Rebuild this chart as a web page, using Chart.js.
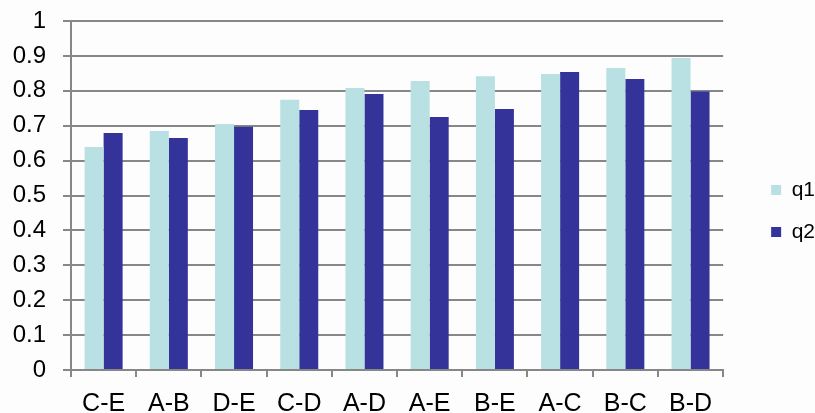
<!DOCTYPE html>
<html>
<head>
<meta charset="utf-8">
<script src="https://cdn.jsdelivr.net/npm/chart.js@4/dist/chart.umd.min.js"></script>
<style>
  html, body { margin: 0; padding: 0; background: #fdfdfd; }
  #wrap { width: 815px; height: 413px; position: relative; }
</style>
</head>
<body>
<div id="wrap"><canvas id="c" width="815" height="413"></canvas></div>
<script>
// Pairwise comparison scores for the two questions
const pairs = ['C-E', 'A-B', 'D-E', 'C-D', 'A-D', 'A-E', 'B-E', 'A-C', 'B-C', 'B-D'];
const q1 = [0.639, 0.685, 0.705, 0.774, 0.808, 0.828, 0.842, 0.848, 0.865, 0.894];
const q2 = [0.679, 0.665, 0.697, 0.745, 0.791, 0.725, 0.748, 0.854, 0.834, 0.798];
const yTicks = [0, 0.1, 0.2, 0.3, 0.4, 0.5, 0.6, 0.7, 0.8, 0.9, 1];

const FONT = '"Liberation Sans", Arial, sans-serif';
const GRID = '#878787';

new Chart(document.getElementById('c'), {
  type: 'bar',
  data: {
    labels: pairs,
    datasets: [
      { label: 'q1', data: q1, backgroundColor: '#b9e0e3', borderWidth: 0 },
      { label: 'q2', data: q2, backgroundColor: '#333399', borderWidth: 0 }
    ]
  },
  options: {
    responsive: false,
    animation: false,
    devicePixelRatio: 1,
    layout: { padding: { top: 11, right: -10, bottom: 2, left: 0 } },
    datasets: { bar: { categoryPercentage: 0.583, barPercentage: 1.0 } },
    plugins: {
      tooltip: { enabled: false },
      legend: {
        position: 'right',
        align: 'center',
        labels: {
          color: '#000',
          font: { family: FONT, size: 21 },
          boxWidth: 10,
          boxHeight: 10,
          padding: 21
        }
      }
    },
    scales: {
      x: {
        z: 1,
        offset: true,
        grid: { display: true, drawOnChartArea: false, drawTicks: true, tickLength: 7, color: GRID, lineWidth: 2, offset: true },
        border: { display: true, color: GRID, width: 2 },
        ticks: { color: '#000', font: { family: FONT, size: 25 }, padding: 12, maxRotation: 0, autoSkip: false },
        afterFit: (s) => { s.height = 41; }
      },
      y: {
        // grid drawn above the bars
        z: 1,
        min: 0,
        max: 1,
        afterBuildTicks: (s) => { s.ticks = yTicks.map(v => ({ value: v })); },
        grid: { color: GRID, lineWidth: 2, tickLength: 8, drawTicks: true },
        border: { display: true, color: GRID, width: 2 },
        ticks: { color: '#000', font: { family: FONT, size: 24 }, padding: 17, callback: (v) => String(v) },
        afterFit: (s) => { s.width = 71; s.paddingTop = 21; s.paddingBottom = 0; }
      },
      // empty spacer between the plot and the legend
      gap: {
        type: 'linear',
        position: 'right',
        display: true,
        grid: { display: false },
        border: { display: false },
        ticks: { display: false },
        afterFit: (s) => { s.width = 27; }
      }
    }
  }
});
</script>
</body>
</html>
